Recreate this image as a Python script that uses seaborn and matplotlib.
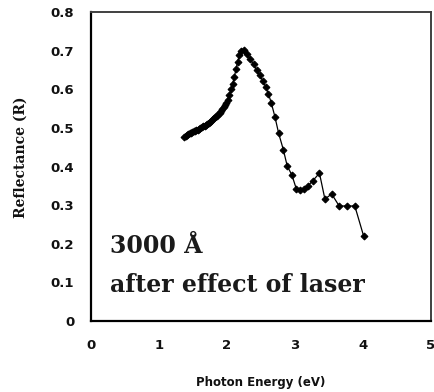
import matplotlib
matplotlib.use("Agg")
import matplotlib.pyplot as plt
import seaborn as sns
import pandas as pd

# Photon energy (eV) and reflectance R of the 3000 Å film after laser exposure
energy = [
    1.373, 1.39, 1.41, 1.43, 1.45, 1.47, 1.49, 1.51, 1.53, 1.55, 1.57, 1.59,
    1.61, 1.63, 1.65, 1.67, 1.69, 1.71, 1.73, 1.75, 1.77, 1.79, 1.81, 1.83,
    1.85, 1.87, 1.89, 1.91, 1.93, 1.95, 1.97, 1.99, 2.01, 2.035, 2.06, 2.083,
    2.108, 2.132, 2.157, 2.181, 2.206, 2.245, 2.29, 2.34, 2.39, 2.435, 2.48,
    2.525, 2.57, 2.61, 2.65, 2.705, 2.76, 2.83, 2.885, 2.955, 3.02, 3.08,
    3.14, 3.19, 3.26, 3.36, 3.44, 3.54, 3.65, 3.76, 3.88, 4.01,
]
reflectance = [
    0.476, 0.479, 0.482, 0.484, 0.486, 0.488, 0.490, 0.491, 0.493, 0.495, 0.496, 0.498,
    0.500, 0.502, 0.504, 0.506, 0.508, 0.511, 0.513, 0.516, 0.519, 0.522, 0.525, 0.528,
    0.532, 0.536, 0.540, 0.545, 0.550, 0.555, 0.560, 0.566, 0.572, 0.585, 0.600, 0.615,
    0.632, 0.652, 0.672, 0.688, 0.700, 0.703, 0.692, 0.679, 0.665, 0.650, 0.637,
    0.622, 0.606, 0.588, 0.566, 0.529, 0.486, 0.443, 0.402, 0.378, 0.342, 0.340,
    0.343, 0.350, 0.363, 0.383, 0.316, 0.329, 0.298, 0.298, 0.298, 0.220,
]

x_ticks = [0, 1, 2, 3, 4, 5]
y_ticks = [0, 0.1, 0.2, 0.3, 0.4, 0.5, 0.6, 0.7, 0.8]
y_tick_labels = ["0", "0.1", "0.2", "0.3", "0.4", "0.5", "0.6", "0.7", "0.8"]

df = pd.DataFrame({"E": energy, "R": reflectance})

sns.set_style("white")
fig = plt.figure(figsize=(4.34, 3.92), dpi=100)
ax = fig.add_axes([0.2097, 0.181, 0.7833, 0.788])

sns.lineplot(data=df, x="E", y="R", ax=ax, color="black", linewidth=0.9,
             marker="D", markersize=3.5, markeredgecolor="black",
             markerfacecolor="black", sort=False)

ax.set_xlim(0, 5)
ax.set_ylim(0, 0.8)
ax.set_xticks(x_ticks)
ax.set_xticks([i * 0.2 for i in range(26)], minor=True)
ax.set_yticks(y_ticks)
ax.set_yticklabels(y_tick_labels)

for lab in ax.get_xticklabels() + ax.get_yticklabels():
    lab.set_family("DejaVu Sans")
    lab.set_fontweight("bold")
    lab.set_fontsize(9.5)
    lab.set_color("#111111")

ax.tick_params(axis="x", which="both", direction="out", length=3, width=1,
               color="black", pad=10)
ax.tick_params(axis="y", which="major", direction="out", length=5, width=1,
               color="black", pad=7)

for side in ("left", "bottom"):
    ax.spines[side].set_color("black")
    ax.spines[side].set_linewidth(1.6)
for side in ("top", "right"):
    ax.spines[side].set_visible(True)
    ax.spines[side].set_color("#404040")
    ax.spines[side].set_linewidth(1.4)

ax.set_xlabel("Photon Energy (eV)", family="DejaVu Sans", fontweight="bold",
              fontsize=8.5, labelpad=17, color="#111111")
ax.set_ylabel("Reflectance (R)", family="DejaVu Serif", fontweight="bold",
              fontsize=10, color="#111111")
ax.yaxis.set_label_coords(-0.185, 0.53)

ax.text(0.28, 0.176, "3000 Å", family="DejaVu Serif", fontweight="bold",
        fontsize=17, color="#1a1a1a")
ax.text(0.28, 0.075, "after effect of laser", family="DejaVu Serif",
        fontweight="bold", fontsize=17, color="#1a1a1a")

fig.savefig("out.png", dpi=100)
